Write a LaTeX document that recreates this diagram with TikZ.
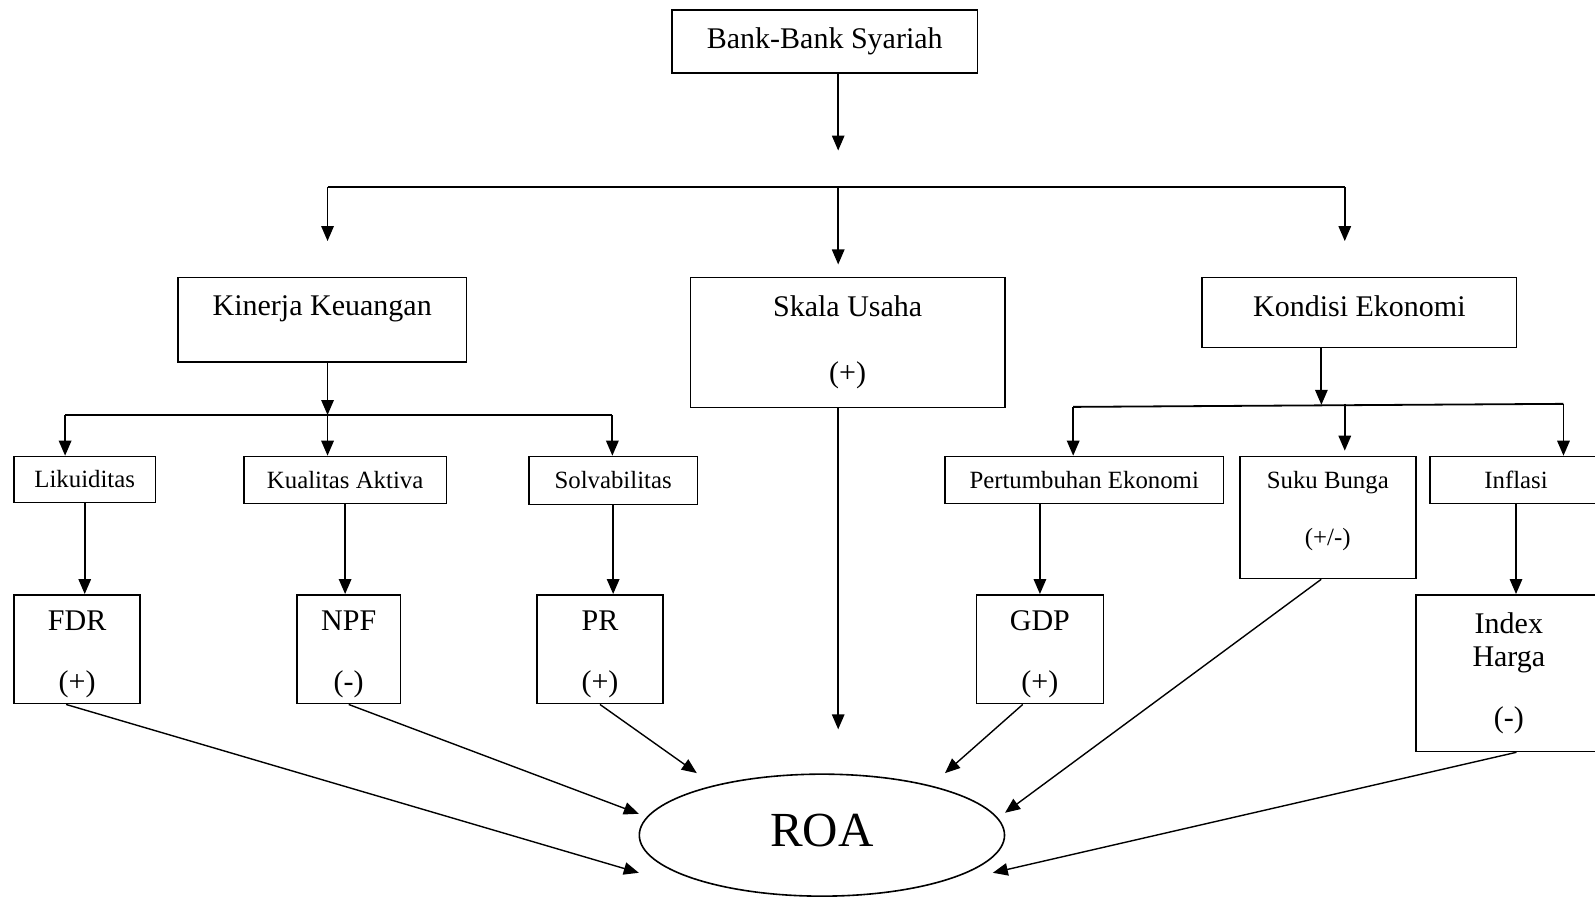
\documentclass[tikz,border=0pt]{standalone}
\usepackage{fontspec}
\setmainfont{Liberation Serif}
\usetikzlibrary{shapes.geometric,positioning,arrows.meta}

\tikzset{
  box/.style={draw,line width=0.8pt,anchor=north west,fill=white,align=center,inner sep=0pt},
  big/.style={font=\fontsize{15}{18}\selectfont},
  small/.style={font=\fontsize{12.4}{15}\selectfont},
  tree/.style={line width=0.9pt},
  arr/.style={tree,-{Triangle[length=7.5pt,width=6.2pt]}},
  darr/.style={line width=0.7pt,-{Triangle[length=7.5pt,width=6.2pt]}},
}
\newcommand\lowstrut{\rule{0pt}{15pt}}

\begin{document}
\begin{tikzpicture}[x=0.5086pt,y=-0.5086pt]
 \useasboundingbox (0,0) rectangle (1568,884);

 \node[box,big,minimum width=152.6pt,minimum height=31.5pt] (bank) at (660,9) {Bank-Bank Syariah};

 \node[box,big,minimum width=144.4pt,minimum height=42.2pt,text depth=14pt] (kinerja) at (174,272) {Kinerja Keuangan};
 \node[box,big,minimum width=157.2pt,minimum height=65.1pt] (skala) at (678,272) {Skala Usaha\\[15pt](+)};
 \node[box,big,minimum width=157.2pt,minimum height=35.1pt,text depth=6.6pt] (kondisi) at (1181,272) {Kondisi Ekonomi};

 \node[box,small,minimum width=70.7pt,minimum height=22.9pt] (likuid) at (13,448) {Likuiditas};
 \node[box,small,minimum width=101.2pt,minimum height=23.4pt] (kualitas) at (239,448) {Kualitas Aktiva};
 \node[box,small,minimum width=84.4pt,minimum height=23.9pt] (solva) at (519,448) {Solvabilitas};
 \node[box,small,minimum width=139.4pt,minimum height=23.4pt] (tumbuh) at (928,448) {Pertumbuhan Ekonomi};
 \node[box,small,minimum width=88pt,minimum height=61pt,text depth=8.8pt] (suku) at (1218,448) {Suku Bunga\\[13.5pt](+/-)};
 \node[box,small,minimum width=86pt,minimum height=23.4pt] (inflasi) at (1405,448) {Inflasi};

 \node[box,big,minimum width=63.1pt,minimum height=54.4pt] (fdr) at (13,584) {\lowstrut FDR\\[12.5pt](+)};
 \node[box,big,minimum width=51.9pt,minimum height=54.4pt] (npf) at (291,584) {\lowstrut NPF\\[12.5pt](-)};
 \node[box,big,minimum width=63.1pt,minimum height=54.4pt] (pr) at (527,584) {\lowstrut PR\\[12.5pt](+)};
 \node[box,big,minimum width=63.6pt,minimum height=54.4pt] (gdp) at (959,584) {\lowstrut GDP\\[12.5pt](+)};
 \node[box,big,minimum width=93.1pt,minimum height=78.3pt] (index) at (1391,584) {Index\\[-1.2pt]Harga\\[12.5pt](-)};

 \node[draw,ellipse,line width=0.8pt,inner sep=0pt,minimum width=182.6pt,minimum height=61pt,text depth=5pt,font=\fontsize{24.5}{28}\selectfont] (roa) at (808,821) {ROA};

 % bank to the three groups
 \coordinate (drop) at (824,148);
 \coordinate (busL) at (322,184);
 \coordinate (busM) at (824,184);
 \coordinate (busR) at (1322,184);
 \coordinate (tipL) at (322,237);
 \coordinate (tipM) at (824,260);
 \coordinate (tipR) at (1322,237);
 \draw[arr] (bank.south -| drop) -- (drop);
 \draw[tree] (busL) -- (busR);
 \draw[arr] (busL) -- (tipL);
 \draw[arr] (busM) -- (tipM);
 \draw[arr] (busR) -- (tipR);

 % kinerja keuangan
 \coordinate (kbus) at (322,408);
 \coordinate (kbusL) at (64,408);
 \coordinate (kbusR) at (602,408);
 \draw[arr] (kinerja.south -| kbus) -- (kbus);
 \draw[tree] (kbusL) -- (kbusR);
 \draw[arr] (kbusL) -- (likuid.north -| kbusL);
 \draw[arr] (kbus) -- (kualitas.north -| kbus);
 \draw[arr] (kbusR) -- (solva.north -| kbusR);
 \draw[arr] (likuid.south) -- (likuid.south |- fdr.north);
 \draw[arr] (kualitas.south) -- (kualitas.south |- npf.north);
 \draw[arr] (solva.south) -- (solva.south |- pr.north);

 % kondisi ekonomi
 \coordinate (ebus) at (1299,398);
 \coordinate (ebusL) at (1055,400);
 \coordinate (ebusM) at (1322,397);
 \coordinate (ebusR) at (1537,397);
 \draw[arr] (kondisi.south -| ebus) -- (ebus);
 \draw[tree] (ebusL) -- (ebusR);
 \draw[arr] (ebusL) -- (tumbuh.north -| ebusL);
 \draw[arr] (ebusM) -- ([yshift=2.5pt]suku.north -| ebusM);
 \draw[arr] (ebusR) -- (inflasi.north -| ebusR);
 \draw[arr] (gdp.north |- tumbuh.south) -- (gdp.north);
 \draw[arr] (inflasi.south) -- (inflasi.south |- index.north);

 % into ROA
 \coordinate (skalatip) at (824,717);
 \coordinate (inFdr) at (628,858);
 \coordinate (inNpf) at (628,800);
 \coordinate (inPr) at (685,760);
 \coordinate (inGdp) at (929,760);
 \coordinate (inSuku) at (988,799);
 \coordinate (inIndex) at (976,858);
 \draw[arr] (skala.south -| skalatip) -- (skalatip);
 \draw[darr] ([xshift=-5.5pt]fdr.south) -- (inFdr);
 \draw[darr] (npf.south) -- (inNpf);
 \draw[darr] (pr.south) -- (inPr);
 \draw[darr] ([xshift=-8.6pt]gdp.south) -- (inGdp);
 \draw[darr] ([xshift=-3.3pt]suku.south) -- (inSuku);
 \draw[darr] ([xshift=3.8pt]index.south) -- (inIndex);
\end{tikzpicture}
\end{document}
